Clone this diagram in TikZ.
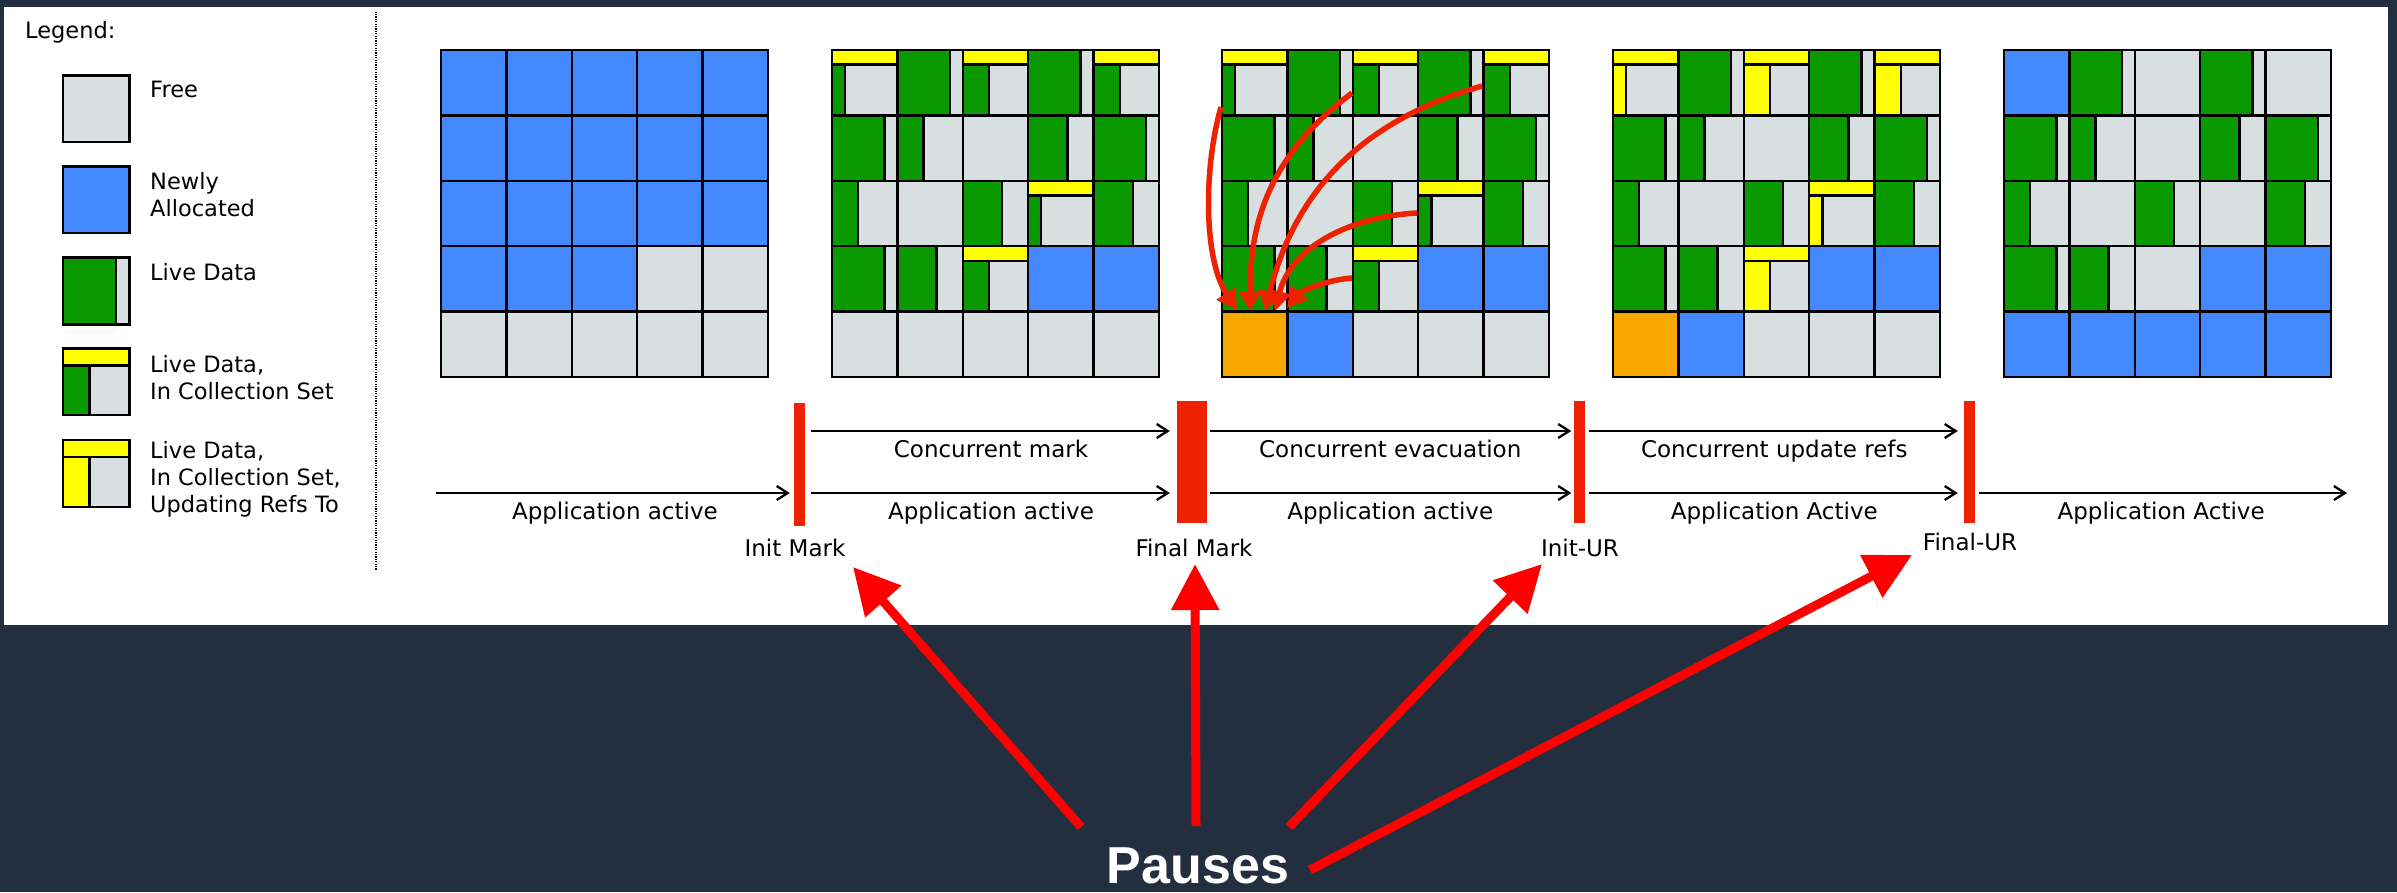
\documentclass[tikz,border=0pt]{standalone}
\usepackage{fontspec}
\setmainfont{DejaVu Sans}
\newfontfamily\pausefont{Liberation Sans}
\usetikzlibrary{arrows.meta}
\definecolor{bgdark}{HTML}{232F3E}
\definecolor{cfree}{HTML}{D8DFE0}
\definecolor{cblue}{HTML}{4488FF}
\definecolor{cgreen}{HTML}{0A9A00}
\definecolor{cyel}{HTML}{FFFF00}
\definecolor{corange}{HTML}{F8A800}
\definecolor{cbar}{HTML}{EE2200}
\definecolor{cpause}{HTML}{FF0000}
\newcommand{\cellF}[2]{\draw[cl,fill=cfree] ({\gxo+(#1)*\csz},{\gyo+(#2)*\csz}) rectangle ++(\csz,\csz);}
\newcommand{\cellB}[2]{\draw[cl,fill=cblue] ({\gxo+(#1)*\csz},{\gyo+(#2)*\csz}) rectangle ++(\csz,\csz);}
\newcommand{\cellO}[2]{\draw[cl,fill=corange] ({\gxo+(#1)*\csz},{\gyo+(#2)*\csz}) rectangle ++(\csz,\csz);}
\newcommand{\cellG}[3]{%
  \draw[cl,fill=cfree] ({\gxo+(#2)*\csz},{\gyo+(#3)*\csz}) rectangle ++(\csz,\csz);
  \draw[cl,fill=cgreen] ({\gxo+(#2)*\csz},{\gyo+(#3)*\csz}) rectangle ++({(#1)*\csz},\csz);}
\newcommand{\cellC}[3]{%
  \draw[cl,fill=cfree] ({\gxo+(#2)*\csz},{\gyo+(#3)*\csz}) rectangle ++(\csz,\csz);
  \draw[cl,fill=cyel] ({\gxo+(#2)*\csz},{\gyo+(#3)*\csz}) rectangle ++(\csz,\bhz);
  \draw[cl,fill=cgreen] ({\gxo+(#2)*\csz},{\gyo+(#3)*\csz+\bhz}) rectangle ++({(#1)*\csz},{\csz-\bhz});}
\newcommand{\cellU}[3]{%
  \draw[cl,fill=cfree] ({\gxo+(#2)*\csz},{\gyo+(#3)*\csz}) rectangle ++(\csz,\csz);
  \draw[cl,fill=cyel] ({\gxo+(#2)*\csz},{\gyo+(#3)*\csz}) rectangle ++(\csz,\bhz);
  \draw[cl,fill=cyel] ({\gxo+(#2)*\csz},{\gyo+(#3)*\csz+\bhz}) rectangle ++({(#1)*\csz},{\csz-\bhz});}
\newcommand{\midrows}[1]{%
  #1{0.2}{0}{0}\cellG{0.8}{1}{0}#1{0.4}{2}{0}\cellG{0.8}{3}{0}#1{0.4}{4}{0}%
  \cellG{0.8}{0}{1}\cellG{0.4}{1}{1}\cellF{2}{1}\cellG{0.6}{3}{1}\cellG{0.8}{4}{1}%
  \cellG{0.4}{0}{2}\cellF{1}{2}\cellG{0.6}{2}{2}#1{0.2}{3}{2}\cellG{0.6}{4}{2}%
  \cellG{0.8}{0}{3}\cellG{0.6}{1}{3}#1{0.4}{2}{3}\cellB{3}{3}\cellB{4}{3}}
\begin{document}
\begin{tikzpicture}[x=1pt,y=-1pt,
  cl/.style={draw=black,line width=2.4pt},
  tl/.style={draw=black,line width=2.3pt,-{Straight Barb[length=11pt,width=14pt]}},
  lbl/.style={anchor=base,inner sep=0pt,font=\fontsize{23}{28}\selectfont},
  legtxt/.style={anchor=base west,inner sep=0pt,font=\fontsize{22.5}{27}\selectfont},
  pausebar/.style={rectangle,fill=cbar,inner sep=0pt,draw=none},
  evac/.style={draw=cbar,line width=5.5pt,-{Triangle[length=20pt,width=22pt]}},
  pausearr/.style={draw=cpause,line width=9pt,-{Triangle[length=46pt,width=46pt]}}]
\useasboundingbox (0,0) rectangle (2397,892);
\fill[bgdark] (0,0) rectangle (2397,892);
\fill[white] (4,7) rectangle (2388,625);

% ---------- legend ----------
\node[legtxt] (legtitle) at (25,38.3) {Legend:};
\def\gxo{62.7}\def\csz{66.7}\def\bhz{17}
\def\gyo{75.5}\cellF{0}{0}
\def\gyo{166.5}\cellB{0}{0}
\def\gyo{257.6}\cellG{0.8}{0}{0}
\def\gyo{348.3}\cellC{0.4}{0}{0}
\def\gyo{440}\cellU{0.4}{0}{0}
\node[legtxt] (legfree) at (150,97.6) {Free};
\node[legtxt] (legnew1) at (150,189.4) {Newly};
\node[legtxt] (legnew2) at (150,216.2) {Allocated};
\node[legtxt] (leglive) at (150,280.5) {Live Data};
\node[legtxt] (legcs1) at (150,372.4) {Live Data,};
\node[legtxt] (legcs2) at (150,399.2) {In Collection Set};
\node[legtxt] (legur1) at (150,458) {Live Data,};
\node[legtxt] (legur2) at (150,485.3) {In Collection Set,};
\node[legtxt] (legur3) at (150,512.8) {Updating Refs To};
\draw[line width=2pt,dash pattern=on 1.2pt off 1.2pt] (376,11.5) -- (376,570);

% ---------- grids ----------
\def\csz{65.4}\def\bhz{14.5}\def\gyo{50}
% grid 1
\def\gxo{441}
\foreach \c in {0,...,4}{\foreach \r in {0,1,2}{\cellB{\c}{\r}}}
\cellB{0}{3}\cellB{1}{3}\cellB{2}{3}\cellF{3}{3}\cellF{4}{3}
\foreach \c in {0,...,4}{\cellF{\c}{4}}
% grid 2
\def\gxo{832}
\midrows{\cellC}
\foreach \c in {0,...,4}{\cellF{\c}{4}}
% grid 3
\def\gxo{1222}
\midrows{\cellC}
\cellO{0}{4}\cellB{1}{4}\cellF{2}{4}\cellF{3}{4}\cellF{4}{4}
% grid 4
\def\gxo{1613}
\midrows{\cellU}
\cellO{0}{4}\cellB{1}{4}\cellF{2}{4}\cellF{3}{4}\cellF{4}{4}
% grid 5
\def\gxo{2004}
\cellB{0}{0}\cellG{0.8}{1}{0}\cellF{2}{0}\cellG{0.8}{3}{0}\cellF{4}{0}
\cellG{0.8}{0}{1}\cellG{0.4}{1}{1}\cellF{2}{1}\cellG{0.6}{3}{1}\cellG{0.8}{4}{1}
\cellG{0.4}{0}{2}\cellF{1}{2}\cellG{0.6}{2}{2}\cellF{3}{2}\cellG{0.6}{4}{2}
\cellG{0.8}{0}{3}\cellG{0.6}{1}{3}\cellF{2}{3}\cellB{3}{3}\cellB{4}{3}
\foreach \c in {0,...,4}{\cellB{\c}{4}}

% ---------- evacuation arrows ----------
\coordinate (ea) at (1221,107); \coordinate (eb) at (1352,93);
\coordinate (ec) at (1482,86);  \coordinate (ed) at (1417,213);
\coordinate (ee) at (1352,278);
\coordinate (ta) at (1237,310); \coordinate (tb) at (1250,311);
\coordinate (tc) at (1265,311); \coordinate (td) at (1275,311);
\coordinate (te) at (1287,308);
\draw[evac] (ea) .. controls (1203,170) and (1204,260) .. (ta);
\draw[evac] (eb) .. controls (1264,159) and (1250,230) .. (tb);
\draw[evac] (ec) .. controls (1357,122) and (1294,195) .. (tc);
\draw[evac] (ed) .. controls (1345,217) and (1290,250) .. (td);
\draw[evac] (ee) .. controls (1325,280) and (1300,292) .. (te);

% ---------- timeline ----------
\coordinate (rowU) at (0,431);
\coordinate (rowL) at (0,493);
\coordinate (tlstart) at (436,493);
\coordinate (tlend) at (2347,493);
\node[pausebar,minimum width=11pt,minimum height=123pt] (initmark) at (799.5,464.5) {};
\node[pausebar,minimum width=30pt,minimum height=122.5pt] (finalmark) at (1192,462) {};
\node[pausebar,minimum width=11pt,minimum height=122.5pt] (initur) at (1579,462) {};
\node[pausebar,minimum width=11pt,minimum height=122.5pt] (finalur) at (1969.5,462) {};

\draw[tl,shorten >=4pt] (tlstart) -- (initmark.west |- rowL)
  node[lbl,midway,yshift=-26pt] (la1) {Application active};
\draw[tl,shorten <=6pt,shorten >=7pt] (initmark.east |- rowU) -- (finalmark.west |- rowU)
  node[lbl,midway,yshift=-26pt] (lc1) {Concurrent mark};
\draw[tl,shorten <=6pt,shorten >=7pt] (initmark.east |- rowL) -- (finalmark.west |- rowL)
  node[lbl,midway,yshift=-26pt] (la2) {Application active};
\draw[tl,shorten <=3pt,shorten >=2pt] (finalmark.east |- rowU) -- (initur.west |- rowU)
  node[lbl,midway,yshift=-26pt] (lc2) {Concurrent evacuation};
\draw[tl,shorten <=3pt,shorten >=2pt] (finalmark.east |- rowL) -- (initur.west |- rowL)
  node[lbl,midway,yshift=-26pt] (la3) {Application active};
\draw[tl,shorten <=4pt,shorten >=6pt] (initur.east |- rowU) -- (finalur.west |- rowU)
  node[lbl,midway,yshift=-26pt] (lc3) {Concurrent update refs};
\draw[tl,shorten <=4pt,shorten >=6pt] (initur.east |- rowL) -- (finalur.west |- rowL)
  node[lbl,midway,yshift=-26pt] (la4) {Application Active};
\draw[tl,shorten <=4pt] (finalur.east |- rowL) -- (tlend)
  node[lbl,midway,yshift=-26pt] (la5) {Application Active};

\node[lbl] (lblinit) at (795,556) {Init Mark};
\node[lbl] (lblfinal) at (1194,556) {Final Mark};
\node[lbl] (lbliur) at (1580,556.7) {Init-UR};
\node[lbl] (lblfur) at (1970,550.7) {Final-UR};

% ---------- pauses ----------
\node[anchor=base,inner sep=0pt,text=white,font=\pausefont\bfseries\fontsize{52}{58}\selectfont] (pauses) at (1198,883) {Pauses};
\coordinate (p1) at (1081,827); \coordinate (q1) at (853,567);
\coordinate (p2) at (1196,826); \coordinate (q2) at (1195,564);
\coordinate (p3) at (1289,827); \coordinate (q3) at (1542,564);
\coordinate (p4) at (1310,870); \coordinate (q4) at (1912,555);
\draw[pausearr] (p1) -- (q1);
\draw[pausearr] (p2) -- (q2);
\draw[pausearr] (p3) -- (q3);
\draw[pausearr] (p4) -- (q4);
\end{tikzpicture}
\end{document}
